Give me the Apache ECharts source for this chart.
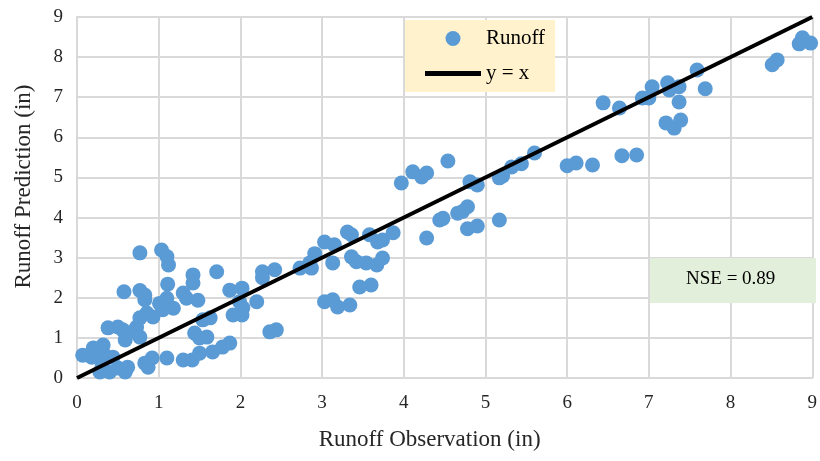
<!DOCTYPE html>
<html>
<head>
<meta charset="UTF-8" />
<title>Runoff</title>
<script src="https://cdn.jsdelivr.net/npm/echarts@6/dist/echarts.min.js"></script>
<style>
  html, body { margin: 0; padding: 0; background: #fff; }
  #chart { width: 820px; height: 461px; }
</style>
</head>
<body>
<div id="chart"></div>
<script>
// observed runoff (in)
var obs = [0.07, 0.18, 0.2, 0.32, 0.34, 0.44, 0.31, 0.28, 0.40, 0.50, 0.62, 0.59, 0.83, 0.92, 0.87, 1.10, 1.30, 1.41, 1.50, 1.66, 1.78, 1.87,
  0.38, 0.50, 0.56, 0.73, 0.68, 0.77, 0.59, 0.77, 0.93, 0.855, 1.05, 1.18, 1.01, 1.10, 1.34, 1.30, 1.48, 1.44, 1.50, 1.59, 1.54, 1.63,
  0.575, 0.77, 0.83, 0.83, 1.11, 1.42, 1.42, 1.71, 0.77, 1.035, 1.10, 1.12,
  1.87, 2.02, 1.91, 2.02, 2.03, 1.99, 2.2, 2.36, 2.44, 2.27, 2.42, 2.27, 2.73, 2.85, 2.87, 2.91, 3.03, 3.15, 3.13,
  3.31, 3.36, 3.58, 3.68, 3.74, 3.87, 3.36, 3.42, 3.54, 3.67, 3.74, 3.46, 3.60, 3.03, 3.13, 3.19, 3.34,
  4.28, 3.97, 4.11, 4.22, 4.28, 4.54, 4.81, 4.90, 4.66, 4.78, 4.72, 4.44, 4.48, 4.78, 4.90, 5.17, 5.17, 5.21, 5.32, 5.44, 5.60,
  6.00, 6.11, 6.31, 6.67, 6.85, 6.44, 6.64, 6.92, 7.00, 7.04, 7.23, 7.25, 7.37, 7.59, 7.69, 7.37, 7.21, 7.31, 7.39,
  8.51, 8.57, 8.84, 8.98, 8.88];
// predicted runoff (in)
var pred = [0.57, 0.52, 0.75, 0.82, 0.57, 0.52, 0.32, 0.15, 0.15, 0.25, 0.27, 0.15, 0.37, 0.50, 0.27, 0.50, 0.45, 0.45, 0.62, 0.65, 0.77, 0.87,
  1.25, 1.27, 1.20, 1.27, 1.15, 1.02, 0.95, 1.50, 1.52, 1.62, 1.70, 1.74, 1.86, 1.99, 1.99, 2.12, 1.94, 1.12, 1.00, 1.02, 1.45, 1.50,
  2.15, 2.18, 2.07, 1.95, 2.34, 2.57, 2.37, 2.65, 3.12, 3.19, 3.03, 2.82,
  2.19, 2.24, 1.57, 1.57, 1.75, 1.90, 1.90, 1.15, 1.20, 2.65, 2.70, 2.50, 2.74, 2.87, 2.74, 3.10, 3.39, 3.32, 2.87,
  3.64, 3.57, 3.57, 3.39, 3.44, 3.62, 3.02, 2.90, 2.87, 2.82, 2.99, 2.27, 2.32, 1.90, 1.95, 1.77, 1.82,
  3.49, 4.86, 5.14, 5.01, 5.11, 5.41, 4.89, 4.81, 4.11, 4.27, 4.15, 3.94, 3.98, 3.72, 3.79, 3.94, 4.99, 5.04, 5.26, 5.34, 5.61,
  5.29, 5.36, 5.31, 5.54, 5.56, 6.86, 6.73, 6.98, 6.98, 7.26, 7.36, 7.18, 7.26, 7.68, 7.21, 6.88, 6.36, 6.23, 6.43,
  7.81, 7.93, 8.33, 8.35, 8.48];
var lineX = [0, 9];
var lineY = [0, 9];
var ticks = [0, 1, 2, 3, 4, 5, 6, 7, 8, 9];

var pts = [];
for (let i = 0; i < obs.length; i++) {
  pts.push([obs[i], pred[i]]);
}
var linePts = [];
for (let i = 0; i < lineX.length; i++) {
  linePts.push([lineX[i], lineY[i]]);
}

var serif = '"Liberation Serif", "Times New Roman", serif';
var myChart = echarts.init(document.getElementById('chart'));
myChart.setOption({
  animation: false,
  textStyle: { fontFamily: serif },
  grid: { left: 77, right: 7, top: 17, bottom: 83, containLabel: false },
  xAxis: {
    type: 'value', min: ticks[0], max: ticks[ticks.length - 1], interval: 1,
    name: 'Runoff Observation (in)', nameLocation: 'middle', nameGap: 50,
    nameTextStyle: { fontFamily: serif, fontSize: 23, color: '#262626', padding: [0, 30, 0, 0] },
    axisLine: { show: true, lineStyle: { color: '#D9D9D9', width: 2 } },
    axisTick: { show: false },
    axisLabel: { fontFamily: serif, fontSize: 19, color: '#262626', margin: 16 },
    splitLine: { show: true, lineStyle: { color: '#D9D9D9', width: 2 } }
  },
  yAxis: {
    type: 'value', min: ticks[0], max: ticks[ticks.length - 1], interval: 1,
    name: 'Runoff Prediction (in)', nameLocation: 'middle', nameGap: 42,
    nameTextStyle: { fontFamily: serif, fontSize: 23, color: '#262626', padding: [0, 0, 0, 22] },
    axisLine: { show: true, lineStyle: { color: '#D9D9D9', width: 2 } },
    axisTick: { show: false },
    axisLabel: { fontFamily: serif, fontSize: 19, color: '#262626', margin: 14 },
    splitLine: { show: true, lineStyle: { color: '#D9D9D9', width: 2 } }
  },
  legend: {
    left: 405, top: 20, orient: 'vertical',
    backgroundColor: '#FFF2CC', padding: [8, 10, 8, 20],
    itemWidth: 56, itemHeight: 15, itemGap: 14,
    textStyle: { fontFamily: serif, fontSize: 21, color: '#000', padding: [0, 12, 0, 0] },
    data: [
      { name: 'Runoff', icon: 'circle' },
      { name: 'y = x', icon: 'path://M0,0 L56,0 L56,5 L0,5 Z', itemStyle: { color: '#000' } }
    ]
  },
  series: [{
    name: 'Runoff', type: 'scatter', data: pts, symbolSize: 15,
    itemStyle: { color: '#5B9BD5', opacity: 1 }, z: 2
  }, {
    name: 'y = x', type: 'line', data: linePts, symbol: 'none',
    lineStyle: { color: '#000', width: 4 }, itemStyle: { color: '#000' }, z: 3
  }],
  graphic: [{
    type: 'rect', left: 650, top: 258, shape: { width: 166, height: 45 },
    style: { fill: '#E2EFDA' }, z: 10
  }, {
    type: 'text', left: 686, top: 270,
    style: { text: 'NSE = 0.89', fontFamily: serif, fontSize: 19, fill: '#000' }, z: 11
  }]
});
</script>
</body>
</html>
